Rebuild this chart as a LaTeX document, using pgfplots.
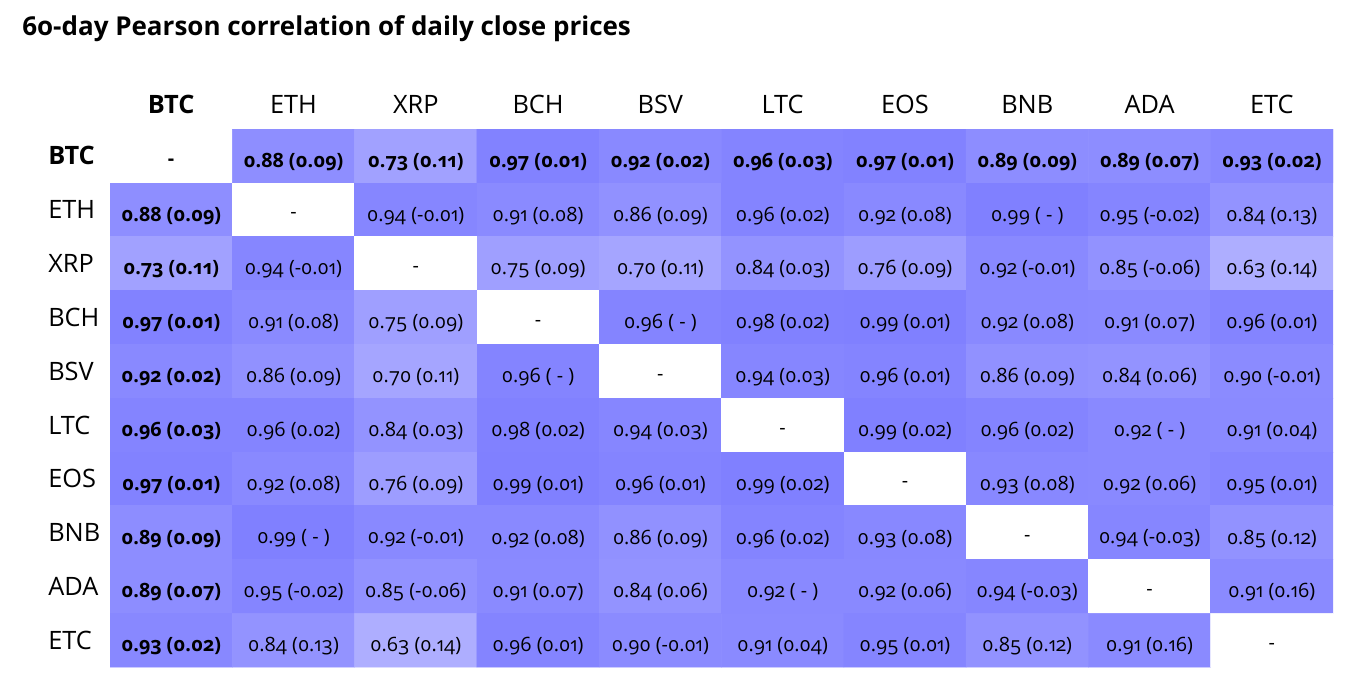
\documentclass[border=0pt]{standalone}
\usepackage{fontspec}
\setmainfont[Numbers=OldStyle]{Open Sans}
\usepackage{pgfplots}
\pgfplotsset{compat=1.18}
\usepackage{pgfplotstable}
\usetikzlibrary{calc}
\newcommand\B[1]{\textbf{#1}}

% x = column, y = 9 - row, c = correlation (0 on the diagonal)
\pgfplotstableread[col sep=comma]{
x,y,c,label
0,9,0,\B{-}
1,9,0.88,\B{0.88 (0.09)}
2,9,0.73,\B{0.73 (0.11)}
3,9,0.97,\B{0.97 (0.01)}
4,9,0.92,\B{0.92 (0.02)}
5,9,0.96,\B{0.96 (0.03)}
6,9,0.97,\B{0.97 (0.01)}
7,9,0.89,\B{0.89 (0.09)}
8,9,0.89,\B{0.89 (0.07)}
9,9,0.93,\B{0.93 (0.02)}
0,8,0.88,\B{0.88 (0.09)}
1,8,0,-
2,8,0.94,0.94 (-0.01)
3,8,0.91,0.91 (0.08)
4,8,0.86,0.86 (0.09)
5,8,0.96,0.96 (0.02)
6,8,0.92,0.92 (0.08)
7,8,0.99,0.99 ( - )
8,8,0.95,0.95 (-0.02)
9,8,0.84,0.84 (0.13)
0,7,0.73,\B{0.73 (0.11)}
1,7,0.94,0.94 (-0.01)
2,7,0,-
3,7,0.75,0.75 (0.09)
4,7,0.70,0.70 (0.11)
5,7,0.84,0.84 (0.03)
6,7,0.76,0.76 (0.09)
7,7,0.92,0.92 (-0.01)
8,7,0.85,0.85 (-0.06)
9,7,0.63,0.63 (0.14)
0,6,0.97,\B{0.97 (0.01)}
1,6,0.91,0.91 (0.08)
2,6,0.75,0.75 (0.09)
3,6,0,-
4,6,0.96,0.96 ( - )
5,6,0.98,0.98 (0.02)
6,6,0.99,0.99 (0.01)
7,6,0.92,0.92 (0.08)
8,6,0.91,0.91 (0.07)
9,6,0.96,0.96 (0.01)
0,5,0.92,\B{0.92 (0.02)}
1,5,0.86,0.86 (0.09)
2,5,0.70,0.70 (0.11)
3,5,0.96,0.96 ( - )
4,5,0,-
5,5,0.94,0.94 (0.03)
6,5,0.96,0.96 (0.01)
7,5,0.86,0.86 (0.09)
8,5,0.84,0.84 (0.06)
9,5,0.90,0.90 (-0.01)
0,4,0.96,\B{0.96 (0.03)}
1,4,0.96,0.96 (0.02)
2,4,0.84,0.84 (0.03)
3,4,0.98,0.98 (0.02)
4,4,0.94,0.94 (0.03)
5,4,0,-
6,4,0.99,0.99 (0.02)
7,4,0.96,0.96 (0.02)
8,4,0.92,0.92 ( - )
9,4,0.91,0.91 (0.04)
0,3,0.97,\B{0.97 (0.01)}
1,3,0.92,0.92 (0.08)
2,3,0.76,0.76 (0.09)
3,3,0.99,0.99 (0.01)
4,3,0.96,0.96 (0.01)
5,3,0.99,0.99 (0.02)
6,3,0,-
7,3,0.93,0.93 (0.08)
8,3,0.92,0.92 (0.06)
9,3,0.95,0.95 (0.01)
0,2,0.89,\B{0.89 (0.09)}
1,2,0.99,0.99 ( - )
2,2,0.92,0.92 (-0.01)
3,2,0.92,0.92 (0.08)
4,2,0.86,0.86 (0.09)
5,2,0.96,0.96 (0.02)
6,2,0.93,0.93 (0.08)
7,2,0,-
8,2,0.94,0.94 (-0.03)
9,2,0.85,0.85 (0.12)
0,1,0.89,\B{0.89 (0.07)}
1,1,0.95,0.95 (-0.02)
2,1,0.85,0.85 (-0.06)
3,1,0.91,0.91 (0.07)
4,1,0.84,0.84 (0.06)
5,1,0.92,0.92 ( - )
6,1,0.92,0.92 (0.06)
7,1,0.94,0.94 (-0.03)
8,1,0,-
9,1,0.91,0.91 (0.16)
0,0,0.93,\B{0.93 (0.02)}
1,0,0.84,0.84 (0.13)
2,0,0.63,0.63 (0.14)
3,0,0.96,0.96 (0.01)
4,0,0.90,0.90 (-0.01)
5,0,0.91,0.91 (0.04)
6,0,0.95,0.95 (0.01)
7,0,0.85,0.85 (0.12)
8,0,0.91,0.91 (0.16)
9,0,0,-
}\cells

\begin{document}
\begin{tikzpicture}
\begin{axis}[
    name=ax,
    x=91.7pt, y=40.35pt,
    xmin=-0.5, xmax=9.5, ymin=-0.5, ymax=9.5,
    axis line style={draw=none},
    major tick length=0pt,
    xtick={0,...,9},
    ytick={0,...,9},
    xticklabels={\textbf{BTC},ETH,XRP,BCH,BSV,LTC,EOS,BNB,ADA,ETC},
    yticklabels={ETC,ADA,BNB,EOS,LTC,BSV,BCH,XRP,ETH,\textbf{BTC}},
    xticklabel pos=upper,
    xticklabel style={anchor=base, inner sep=0pt, yshift=12pt, font=\fontsize{19}{22}\selectfont},
    yticklabel style={anchor=west, inner sep=0pt, xshift=-46.5pt, font=\fontsize{19}{22}\selectfont},
    colormap={wb}{rgb255=(255,255,255) rgb255=(0,0,255)},
    title={6o-day Pearson correlation of daily close prices},
    title style={at={(axis description cs:0,1)}, anchor=base west, inner sep=0pt,
        xshift=-66pt, yshift=63.75pt, font=\bfseries\fontsize{19.5}{23}\selectfont},
]
\addplot[matrix plot*, mesh/cols=10, point meta=explicit,
    point meta min=0, point meta max=2]
    table[x=x, y=y, meta=c] {\cells};
\addplot[draw=none, mark=none, point meta=explicit symbolic,
    nodes near coords={\pgfplotspointmeta},
    every node near coord/.append style={anchor=center, inner sep=0pt, yshift=-4.5pt,
        font=\fontsize{14.8}{17}\selectfont}]
    table[x=x, y=y, meta=label] {\cells};
\end{axis}
\pgfresetboundingbox
\path[use as bounding box] ($(ax.south west)+(-82.5pt,-13.5pt)$)
    rectangle ($(ax.north east)+(11.25pt,96.75pt)$);
\end{tikzpicture}
\end{document}
